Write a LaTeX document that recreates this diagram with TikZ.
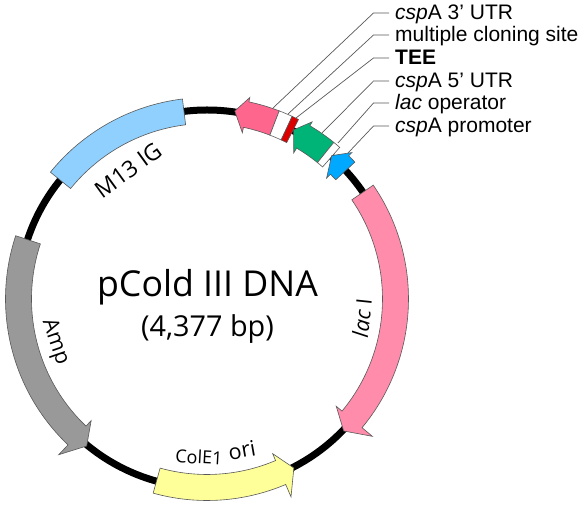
\documentclass[tikz,border=0pt]{standalone}
\usepackage{fontspec}
\setmainfont{Liberation Sans}
\newfontfamily\plasmidfont{Open Sans}
\usetikzlibrary{calc,positioning}
\definecolor{lacIpink}{HTML}{FF8CAB}
\definecolor{utrpink}{HTML}{FF668E}
\definecolor{ampgray}{HTML}{999999}
\definecolor{oriyellow}{HTML}{FFFF99}
\definecolor{igblue}{HTML}{8FD0FF}
\definecolor{utrgreen}{HTML}{00B478}
\definecolor{promblue}{HTML}{00A8FF}
\definecolor{teered}{HTML}{DD0000}
\tikzset{
 gene/.style={draw=black!65,line width=.6pt,line join=miter},
 callout/.style={anchor=base west,inner sep=0pt,font=\fontsize{21}{22}\selectfont},
 leader/.style={black!65,line width=.7pt},
 genelabel/.style={inner sep=0pt,font=\plasmidfont\fontsize{21.5}{24}\selectfont}
}
% fill, start, head base, tip, barb inner, barb outer
\newcommand{\genearrow}[6]{
 \draw[gene,fill=#1] (#2:175.5) arc[start angle=#2,end angle=#3,radius=175.5]
    -- (#3:#5) -- (#4:190) -- (#3:#6) -- (#3:201.5)
    arc[start angle=#3,end angle=#2,radius=201.5] -- cycle;
}
\newcommand{\genebox}[3]{
 \draw[gene,fill=#1] (#2:175.5) arc[start angle=#2,end angle=#3,radius=175.5]
    -- (#3:201.5) arc[start angle=#3,end angle=#2,radius=201.5] -- cycle;
}
\begin{document}
\begin{tikzpicture}[x=1pt,y=1pt]
 \useasboundingbox (0,0) rectangle (584,505);
 \begin{scope}[shift={(207,206)}]
 \draw[line width=7pt] (0,0) circle (189);
 % large features
 \genebox{igblue}{97}{141}
 \genearrow{ampgray}{161.7}{226.4}{230.7}{168}{215}
 \genearrow{oriyellow}{254.5}{293}{297.2}{168}{215}
 \genearrow{lacIpink}{34.4}{-39.7}{-44}{168}{215}
 % features near the promoter
 \genearrow{utrpink}{69}{78}{81.6}{170}{206}
 \genebox{white}{69}{65}
 \genebox{teered}{65}{63}
 \genearrow{utrgreen}{51}{59.3}{62.9}{170}{206}
 \genebox{white}{51}{48.8}
 \genearrow{promblue}{42.8}{45.3}{49}{170}{206}
 \node[genelabel,font=\plasmidfont\fontsize{23}{24}\selectfont,rotate=36] (igl) at (-79,129) {M13 IG};
 \node[genelabel,rotate=-71] (ampl) at (-152,-43) {Amp};
 \node[genelabel,font=\plasmidfont\fontsize{18}{20}\selectfont,rotate=-3] (colel) at (-8,-158) {ColE1};
 \node[genelabel,rotate=10] (oril) at (35,-151) {ori};
 \node[genelabel,rotate=84] (lacl) at (155,-19) {\textit{lac} I};
 \end{scope}
 \node[inner sep=0pt,font=\plasmidfont\fontsize{35.7}{40}\selectfont] (title) at (207.5,218) {pCold III DNA};
 \node[inner sep=0pt,font=\plasmidfont\fontsize{28.8}{32}\selectfont] (size) at (207.5,176) {(4,377 bp)};
 % callouts: name/text baseline/feature end
 \coordinate (utrthree) at (273,397);
 \coordinate (mcs) at (288,391);
 \coordinate (tee) at (296,387);
 \coordinate (utrfive) at (322,372);
 \coordinate (oper) at (338,362);
 \coordinate (prom) at (348,352);
 \foreach \v/\y/\txt in {utrthree/485/\textit{csp}A 3' UTR,
    mcs/463/multiple cloning site,
    tee/440/\textbf{TEE},
    utrfive/417/\textit{csp}A 5' UTR,
    oper/395/\textit{lac} operator,
    prom/372/\textit{csp}A promoter}{
    \node[callout] (\v l) at (395,\y) {\txt};
    \draw[leader] (\v) -- (373.5,\y+7) -- (389,\y+7);
 }
\end{tikzpicture}
\end{document}
